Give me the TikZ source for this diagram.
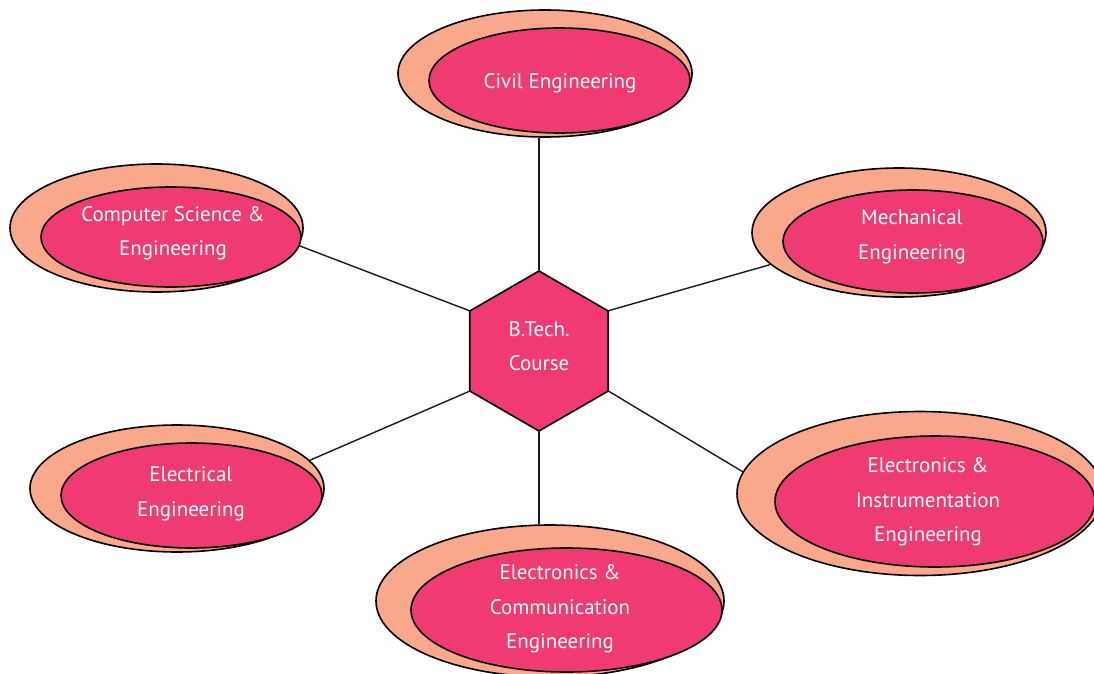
\documentclass[tikz,border=0pt]{standalone}
\usepackage{fontspec}
\setmainfont{PT Sans}
\usetikzlibrary{shapes.geometric}
\definecolor{salmon}{HTML}{F9A88B}
\definecolor{rosy}{HTML}{EF3A72}
\tikzset{
  outerell/.style={ellipse, draw=black, line width=1.6pt, fill=salmon, inner sep=0pt},
  innerell/.style={ellipse, draw=black, line width=1.6pt, fill=rosy, inner sep=0pt},
  lbl/.style={text=white, align=center, font=\fontsize{21}{34.5}\selectfont},
  hexa/.style={regular polygon, regular polygon sides=6, shape border rotate=30, minimum size=160pt, inner sep=0pt, draw=black, line width=1.6pt, fill=rosy},
  conn/.style={draw=black!90, line width=1.4pt}
}
\begin{document}
\begin{tikzpicture}[x=1pt,y=-1pt]
\useasboundingbox (0,0) rectangle (1094,674);
% Civil
\node[outerell, minimum width=294pt, minimum height=127pt] (civO) at (545,73.5) {};
\node[innerell, minimum width=261pt, minimum height=105pt] (civI) at (559.5,80.5) {};
\node[lbl] (civT) at (560,83) {Civil Engineering};
% Computer Science
\node[outerell, minimum width=293pt, minimum height=128pt] (csO) at (156.5,228) {};
\node[innerell, minimum width=260pt, minimum height=100pt] (csI) at (171,237) {};
\node[lbl] (csT) at (173,233) {Computer Science \&\\Engineering};
% Mechanical
\node[outerell, minimum width=294pt, minimum height=129pt] (meO) at (899,232.5) {};
\node[innerell, minimum width=260pt, minimum height=103pt] (meI) at (913,241.5) {};
\node[lbl] (meT) at (912,237) {Mechanical\\Engineering};
% Electrical
\node[outerell, minimum width=294pt, minimum height=127pt] (elO) at (177,488.5) {};
\node[innerell, minimum width=261pt, minimum height=105pt] (elI) at (191.5,495.5) {};
\node[lbl] (elT) at (191,494) {Electrical\\Engineering};
% Electronics & Instrumentation
\node[outerell, minimum width=366pt, minimum height=164pt] (eiO) at (920,493.5) {};
\node[innerell, minimum width=320pt, minimum height=131pt] (eiI) at (935,501.5) {};
\node[lbl] (eiT) at (928,502) {Electronics \&\\Instrumentation\\Engineering};
% Electronics & Communication
\node[outerell, minimum width=348pt, minimum height=152pt] (ecO) at (550,601) {};
\node[innerell, minimum width=311pt, minimum height=124pt] (ecI) at (566.5,610) {};
\node[lbl] (ecT) at (560,609) {Electronics \&\\Communication\\Engineering};
% Hexagon
\node[hexa] (hex) at (539,351) {};
\node[lbl] (hexT) at (539,346) {B.Tech.\\Course};
% connectors
\draw[conn] (hex.90) -- (hex.90 |- civO.south);
\draw[conn] (hex.150) -- (csO.-7);
\draw[conn] (hex.30) -- (meO.194);
\draw[conn] (hex.210) -- (elO.12);
\draw[conn] (hex.330) -- (eiO.173);
\draw[conn] (hex.270) -- (hex.270 |- ecO.north);
\end{tikzpicture}
\end{document}
